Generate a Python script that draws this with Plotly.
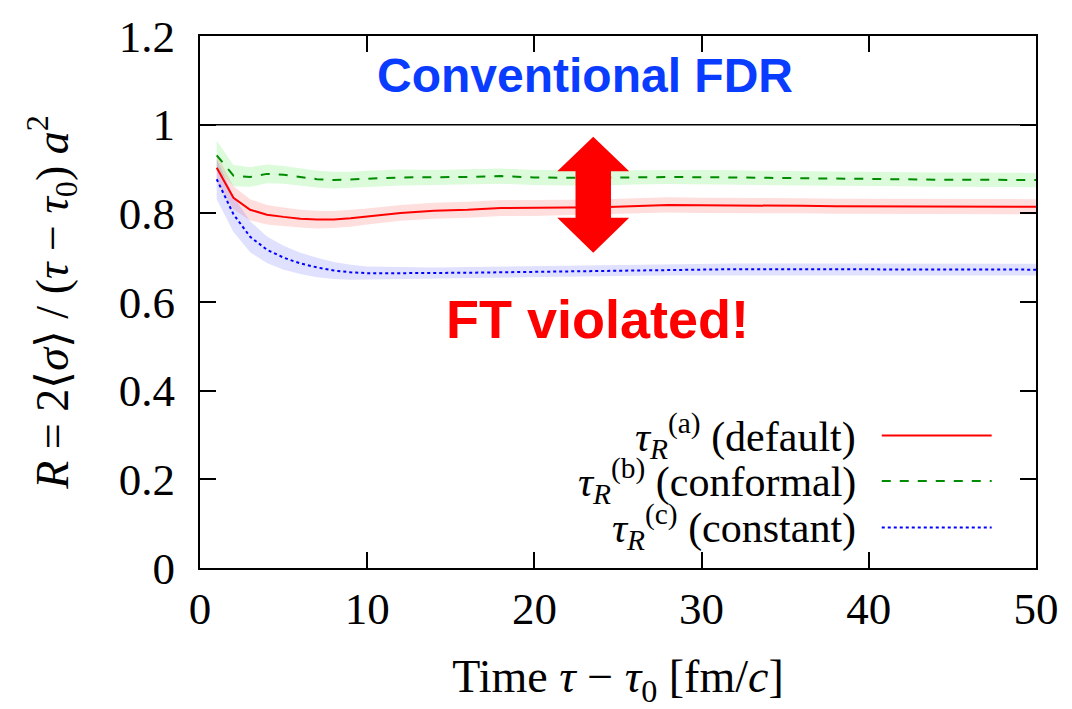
import plotly.graph_objects as go

# ---------------- data ----------------
t = [1, 2, 3, 4, 5, 6, 7, 8, 9, 10, 12, 14, 16, 18, 20, 22, 24, 26, 28, 30,
     32, 34, 36, 38, 40, 42, 44, 46, 48, 50]

r_default = [0.903, 0.835, 0.808, 0.797, 0.792, 0.788, 0.786, 0.786, 0.789, 0.793,
             0.801, 0.806, 0.808, 0.812, 0.812, 0.813, 0.814, 0.817, 0.819, 0.818,
             0.818, 0.817, 0.817, 0.816, 0.816, 0.815, 0.815, 0.815, 0.815, 0.815]
err_default = [0.03, 0.026, 0.024, 0.022, 0.021, 0.02, 0.02, 0.019, 0.019, 0.018,
               0.018, 0.018, 0.018, 0.018, 0.018, 0.017, 0.017, 0.017, 0.017, 0.017,
               0.017, 0.017, 0.017, 0.017, 0.017, 0.017, 0.017, 0.017, 0.017, 0.017]

r_conformal = [0.931, 0.885, 0.882, 0.889, 0.887, 0.882, 0.877, 0.875, 0.876, 0.878,
               0.881, 0.881, 0.882, 0.884, 0.881, 0.880, 0.880, 0.881, 0.882, 0.882,
               0.881, 0.880, 0.879, 0.878, 0.877, 0.877, 0.876, 0.876, 0.875, 0.875]
err_conformal = [0.033, 0.024, 0.022, 0.021, 0.02, 0.02, 0.019, 0.019, 0.018, 0.018,
                 0.018, 0.017, 0.017, 0.017, 0.017, 0.017, 0.017, 0.016, 0.016, 0.016,
                 0.016, 0.016, 0.016, 0.016, 0.016, 0.016, 0.016, 0.016, 0.016, 0.016]

r_constant = [0.877, 0.798, 0.747, 0.718, 0.700, 0.687, 0.678, 0.671, 0.667, 0.665,
              0.665, 0.665, 0.666, 0.667, 0.668, 0.670, 0.671, 0.672, 0.673, 0.674,
              0.674, 0.674, 0.674, 0.674, 0.673, 0.673, 0.673, 0.673, 0.673, 0.673]
err_constant = [0.045, 0.04, 0.035, 0.03, 0.027, 0.024, 0.022, 0.019, 0.017, 0.015,
                0.014, 0.013, 0.013, 0.013, 0.013, 0.013, 0.013, 0.013, 0.013, 0.013,
                0.013, 0.013, 0.013, 0.013, 0.013, 0.013, 0.013, 0.013, 0.013, 0.013]

x_ticks = [0, 10, 20, 30, 40, 50]
y_ticks = [0, 0.2, 0.4, 0.6, 0.8, 1, 1.2]
y_tick_labels = ["0", "0.2", "0.4", "0.6", "0.8", "1", "1.2"]

legend_labels = ["(default)", "(conformal)", "(constant)"]
legend_sups = ["(a)", "(b)", "(c)"]

SERIF = "Liberation Serif"
SANS = "Liberation Sans"

series = [
    (r_default, err_default, "#ff0000", "solid", "rgba(255,60,60,0.17)"),
    (r_conformal, err_conformal, "#008c00", "dash", "rgba(40,230,40,0.17)"),
    (r_constant, err_constant, "#0000ff", "dot", "rgba(70,70,255,0.17)"),
]

fig = go.Figure()

for vals, err, col, dash, fill in series:
    upper = [v + e for v, e in zip(vals, err)]
    lower = [v - e for v, e in zip(vals, err)]
    fig.add_trace(go.Scatter(x=t + t[::-1], y=upper + lower[::-1], fill="toself",
                             fillcolor=fill, line=dict(width=0), mode="lines",
                             hoverinfo="skip", showlegend=False))

for vals, err, col, dash, fill in series:
    fig.add_trace(go.Scatter(x=t, y=vals, mode="lines",
                             line=dict(color=col, width=2, dash=dash),
                             showlegend=False))

shapes = []
# reference line at R = 1
shapes.append(dict(type="line", xref="paper", yref="y", x0=0, x1=1, y0=1, y1=1,
                   line=dict(color="black", width=1.5)))

# red double-headed arrow
AX = 23.52
HEAD_HALF = 2.15
SHAFT_HALF = 1.06
TOP_TIP, TOP_BASE = 0.973, 0.895
BOT_BASE, BOT_TIP = 0.790, 0.711
path = (f"M {AX},{TOP_TIP} L {AX + HEAD_HALF},{TOP_BASE} L {AX + SHAFT_HALF},{TOP_BASE} "
        f"L {AX + SHAFT_HALF},{BOT_BASE} L {AX + HEAD_HALF},{BOT_BASE} L {AX},{BOT_TIP} "
        f"L {AX - HEAD_HALF},{BOT_BASE} L {AX - SHAFT_HALF},{BOT_BASE} "
        f"L {AX - SHAFT_HALF},{TOP_BASE} L {AX - HEAD_HALF},{TOP_BASE} Z")
shapes.append(dict(type="path", xref="x", yref="y", path=path,
                   fillcolor="#ff0000", line=dict(width=0)))

# manual legend
leg_y = [0.249, 0.1636, 0.0762]
leg_x0, leg_x1, leg_text_x = 0.8155, 0.947, 0.7865
annotations = []
for i, (vals, err, col, dash, fill) in enumerate(series):
    shapes.append(dict(type="line", xref="paper", yref="paper", x0=leg_x0, x1=leg_x1,
                       y0=leg_y[i], y1=leg_y[i], line=dict(color=col, width=2, dash=dash)))
    annotations.append(dict(
        xref="paper", yref="paper", x=leg_text_x, y=leg_y[i], xanchor="right", yanchor="middle",
        text=f"<i>τ</i><sub><i>R</i></sub><sup>{legend_sups[i]}</sup> {legend_labels[i]}",
        showarrow=False, font=dict(family=SERIF, size=42, color="black")))

annotations.append(dict(xref="x", yref="y", x=23.0, y=1.111, text="<b>Conventional FDR</b>",
                        showarrow=False, xanchor="center", yanchor="middle",
                        font=dict(family=SANS, size=48, color="#0a3cff")))
annotations.append(dict(xref="x", yref="y", x=23.8, y=0.562, text="<b>FT violated!</b>",
                        showarrow=False, xanchor="center", yanchor="middle",
                        font=dict(family=SANS, size=54, color="#ff0000")))

fig.update_layout(
    width=1072, height=709,
    margin=dict(l=200, r=36, t=30, b=141),
    paper_bgcolor="white", plot_bgcolor="white",
    shapes=shapes, annotations=annotations,
    showlegend=False,
)
fig.update_xaxes(range=[0, 50], tickvals=x_ticks, ticks="inside", ticklen=16, tickwidth=1.5,
                 tickcolor="black", showline=True, linecolor="black", linewidth=2, mirror="ticks",
                 showgrid=False, zeroline=False,
                 tickfont=dict(family=SERIF, size=45, color="black"),
                 title=dict(text="Time <i>τ</i> − <i>τ</i><sub>0</sub> [fm/<i>c</i>]",
                            font=dict(family=SERIF, size=46, color="black"), standoff=30))
fig.update_yaxes(range=[0, 1.2], tickvals=y_ticks, ticktext=y_tick_labels, ticks="inside",
                 ticklen=16, tickwidth=1.5, tickcolor="black", showline=True, linecolor="black",
                 linewidth=2, mirror="ticks", showgrid=False, zeroline=False,
                 ticklabelstandoff=14,
                 tickfont=dict(family=SERIF, size=45, color="black"),
                 title=dict(text="<i>R</i> = 2⟨<i>σ</i>⟩ / (<i>τ</i> − <i>τ</i><sub>0</sub>) <i>a</i><sup>2</sup>",
                            font=dict(family=SERIF, size=46, color="black"), standoff=36))

fig.write_html("out.html")
